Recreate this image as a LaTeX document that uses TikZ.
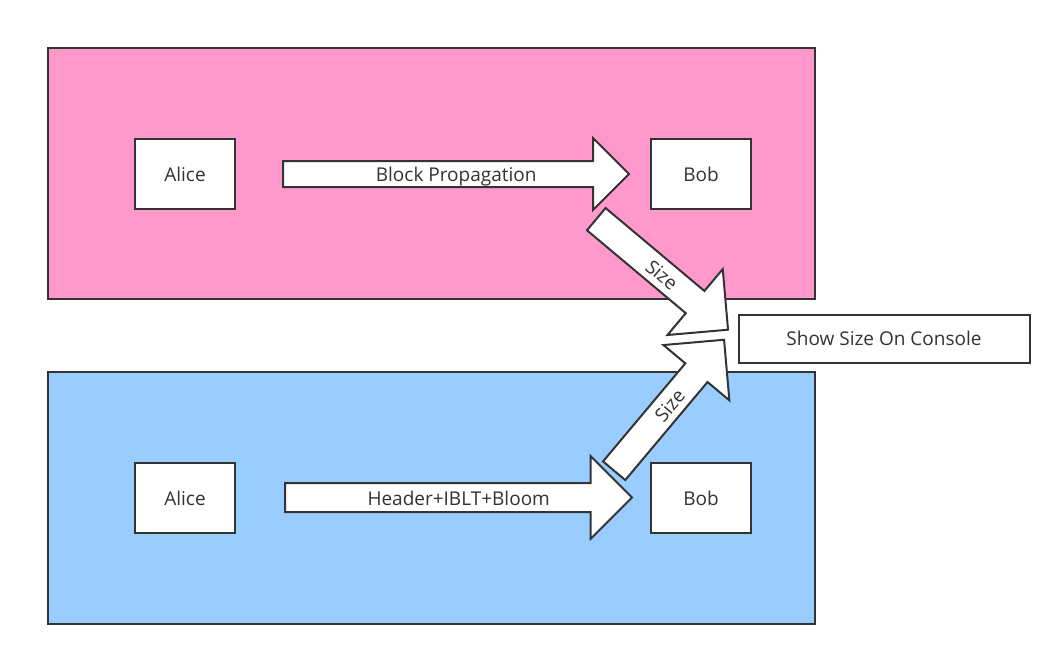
\documentclass[tikz,border=0pt]{standalone}
\usepackage{fontspec}
\setmainfont{Open Sans}
\usetikzlibrary{shapes.arrows,calc}
\definecolor{panelpink}{HTML}{FF99CC}
\definecolor{panelblue}{HTML}{99CCFF}
\definecolor{ink}{HTML}{333333}
\tikzset{
  panel/.style={draw=ink, line width=1.5pt},
  box/.style={draw=ink, fill=white, line width=2pt, text=ink,
    minimum width=100pt, minimum height=70pt, font=\fontsize{19}{23}\selectfont},
  bigarrow/.style={single arrow, draw=ink, fill=white, line width=2pt, anchor=tail,
    text height=13pt, text depth=4pt, inner xsep=0pt, single arrow head indent=0pt},
  arrowlabel/.style={text=ink, inner sep=0pt, text height=15pt, text depth=0pt,
    font=\fontsize{19}{23}\selectfont},
}
\begin{document}
\begin{tikzpicture}[x=1pt,y=-1pt]
      \useasboundingbox[fill=white] (0,0) rectangle (1062,656);
      \draw[panel, fill=panelpink] (48,48) rectangle (815,299);
      \draw[panel, fill=panelblue] (48,372) rectangle (815,624);
      \node[box] (alice1) at (185,174) {Alice};
      \node[box] (bob1) at (701,174) {Bob};
      \node[box] (alice2) at (185,498) {Alice};
      \node[box] (bob2) at (701,498) {Bob};
      \node[box, minimum width=291pt, minimum height=48pt] (console) at (884,338.5) {Show Size On Console};
      % block arrows
      \node[bigarrow, inner ysep=3.5pt, single arrow head extend=23pt,
        minimum height=346pt] (block) at (282,174) {};
      \node[bigarrow, inner ysep=5pt, single arrow head extend=27pt,
        minimum height=347pt] (compact) at (284,497.5) {};
      \node[bigarrow, inner ysep=5pt, single arrow head extend=28.5pt,
        minimum height=172pt, rotate=-40] (size1) at (595.5,218.5) {};
      \node[bigarrow, inner ysep=5pt, single arrow head extend=28.5pt,
        minimum height=171pt, rotate=50] (size2) at (613.5,471.5) {};
      % labels
      \node[arrowlabel] (blocktext) at ($(block.tail)!.5!(block.tip)$) {Block Propagation};
      \node[arrowlabel] (compacttext) at ($(compact.tail)!.5!(compact.tip)$) {Header+IBLT+Bloom};
      \node[arrowlabel, rotate=-40] (size1text) at ($(size1.tail)!.5!(size1.tip)$) {Size};
      \node[arrowlabel, rotate=50] (size2text) at ($(size2.tail)!.5!(size2.tip)$) {Size};
    \end{tikzpicture}
\end{document}
